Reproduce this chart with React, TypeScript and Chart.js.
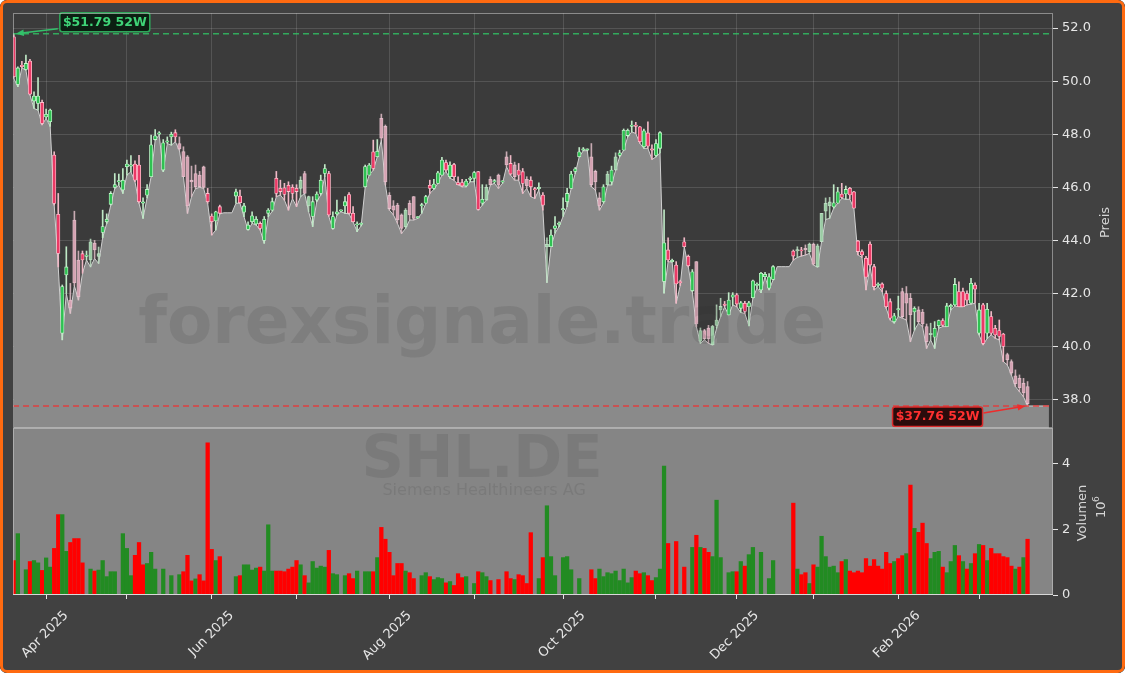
import React, { useEffect, useRef } from "react";
import { Chart, registerables } from "chart.js";
Chart.register(...registerables);

const FONT = '"DejaVu Sans", Verdana, sans-serif';

// ---- data (index = trading day, 0 = 20 Mar 2025 ... 251 = 18 Mar 2026) ----
const opens: (number | null)[] = [
  51.67, 49.88, 50.60, 50.44, 50.76, 49.25, 49.16, 49.20, 48.65, 48.47,
  47.22, 44.98, 40.50, 42.70, 41.75, 44.77, 43.26, 43.50, 43.40, 43.26,
  43.90, 43.40, 44.30, 44.70, 45.36, 46.00, 46.20, 45.90, 46.78, 46.80,
  46.88, 46.84, 45.40, 45.70, 46.40, 47.80, 48.00, 46.65, 47.70, 47.90,
  48.06, 47.65, 47.35, 47.15, 46.27, 46.52, 46.46, 46.77, 45.77, 44.92,
  44.73, 45.27, null, null, null, 45.67, 45.67, 45.06, 44.41, 44.70,
  44.62, 44.64, 44.00, 45.02, 45.14, 46.34, 45.96, 45.98, 46.08, 46.00,
  45.96, 45.96, 46.52, 45.30, 44.90, 45.52, 45.77, 46.52, 46.52, 44.45,
  45.00, 45.10, 45.30, 45.73, 45.02, 44.58, 44.60, 46.02, 46.46, 47.34,
  47.15, 48.60, 48.30, 45.70, 45.30, 45.33, 44.96, 44.52, 45.40, 45.65,
  44.85, 45.30, 45.40, 46.08, 45.96, 46.15, 46.46, 46.93, 46.40, 46.86,
  46.18, 46.18, 46.05, 46.30, 46.34, 46.59, 45.40, 45.52, 46.30, 46.20,
  46.46, 46.20, 47.15, 46.90, 46.85, 46.65, 46.59, 46.30, 46.27, 45.95,
  45.95, 45.71, 43.75, 43.76, 44.45, 44.60, 45.15, 45.46, 45.96, 46.60,
  47.15, 47.40, 47.40, 47.15, 46.60, 45.60, 45.46, 46.09, 46.20, 46.65,
  47.20, 47.40, 47.95, 48.30, 48.35, 48.28, 47.53, 48.05, 47.45, 47.20,
  47.47, 42.45, 43.64, 43.20, 43.07, 42.45, 43.95, 43.40, 42.10, 43.20,
  40.20, 40.60, 40.70, 40.06, 40.80, 41.38, 41.60, 41.19, 41.86, 41.95,
  41.44, 41.63, 41.50, 41.84, 42.30, 42.13, 42.63, 42.20, 42.53, null,
  null, null, null, 43.60, 43.60, 43.62, 43.70, 43.58, 43.86, 43.00,
  43.95, 45.10, 45.30, 45.26, 45.40, 45.75, 45.75, 45.96, 45.83, 43.98,
  43.58, 43.33, 43.86, 43.01, 42.30, 42.36, 42.00, 41.69, 40.94, 41.38,
  42.07, 42.00, 41.82, 41.30, 41.38, 41.30, 40.75, 40.45, 40.35, 40.78,
  40.98, 40.75, 41.50, 41.57, 42.07, 42.07, 42.00, 41.63, 42.32, 40.50,
  41.57, 40.50, 41.13, 40.69, 40.60, 40.47, 39.70, 39.43, 38.90, 38.80,
  38.62, 38.49,
];
const highs: (number | null)[] = [
  51.79, 50.54, 50.75, 50.98, 50.82, 49.60, 50.14, 49.29, 48.95, 48.95,
  47.34, 45.77, 42.32, 43.76, 42.38, 45.10, 43.60, 43.60, 43.60, 44.05,
  44.00, 43.75, 45.14, 45.00, 45.84, 46.52, 46.50, 46.71, 47.03, 47.20,
  47.00, 47.21, 45.60, 46.10, 47.97, 48.18, 48.10, 47.80, 47.90, 48.08,
  48.17, 47.90, 47.53, 47.20, 46.80, 46.84, 46.60, 46.80, 45.96, 45.00,
  45.10, 45.33, null, null, null, 45.93, 45.90, 45.40, 44.70, 45.08,
  44.90, 44.70, 44.90, 45.20, 45.60, 46.60, 46.27, 46.15, 46.21, 46.10,
  46.10, 46.40, 46.60, 45.67, 45.65, 45.83, 46.46, 46.86, 46.60, 45.08,
  45.52, 45.15, 45.65, 45.80, 45.27, 44.70, 44.66, 46.84, 46.90, 47.78,
  47.80, 48.76, 48.35, 45.80, 45.50, 45.40, 45.00, 45.20, 45.50, 45.65,
  44.90, 45.40, 45.70, 46.27, 46.30, 46.60, 47.13, 47.03, 46.96, 46.90,
  46.40, 46.30, 46.30, 46.40, 46.60, 46.60, 46.10, 46.10, 46.40, 46.30,
  46.50, 46.25, 47.34, 47.20, 46.95, 46.90, 46.71, 46.40, 46.40, 46.00,
  46.17, 45.80, 44.10, 44.40, 44.90, 44.70, 45.60, 45.96, 46.60, 46.75,
  47.50, 47.50, 47.45, 47.65, 46.65, 45.80, 46.10, 46.60, 46.80, 47.30,
  47.40, 48.20, 48.20, 48.50, 48.45, 48.30, 48.20, 48.47, 47.60, 47.80,
  48.10, 45.15, 44.10, 43.30, 43.20, 42.50, 44.10, 43.45, 42.90, 43.20,
  40.70, 40.65, 40.80, 40.80, 41.57, 41.82, 41.70, 42.03, 42.03, 42.00,
  41.70, 41.70, 41.70, 42.50, 42.40, 42.80, 42.80, 42.75, 43.05, null,
  null, null, null, 43.64, 43.76, 43.74, 43.83, 43.90, 43.90, 43.86,
  45.02, 45.60, 45.62, 46.10, 46.00, 46.15, 46.05, 46.00, 45.85, 44.00,
  43.64, 43.40, 43.95, 43.10, 42.40, 42.40, 42.10, 41.80, 41.25, 41.90,
  42.20, 42.26, 42.00, 41.50, 41.50, 41.40, 40.85, 40.88, 40.94, 41.00,
  41.05, 41.63, 41.60, 42.57, 42.44, 42.20, 42.10, 42.57, 42.40, 41.63,
  41.63, 41.63, 41.32, 40.80, 41.00, 40.50, 39.75, 39.50, 39.12, 38.93,
  38.80, 38.68,
];
const lows: number[] = [
  50.10, 49.79, 50.50, 50.42, 49.48, 48.97, 48.91, 48.35, 48.60, 48.30,
  45.33, 43.00, 40.25, 42.00, 41.25, 42.30, 41.75, 42.76, 43.26, 43.00,
  43.32, 43.13, 44.10, 44.64, 45.33, 45.96, 46.08, 45.77, 46.46, 46.59,
  46.21, 45.40, 44.83, 45.60, 46.40, 47.78, 47.97, 46.59, 47.65, 47.59,
  47.72, 47.40, 46.40, 45.02, 45.65, 45.95, 46.00, 45.96, 45.40, 44.20,
  44.39, 45.00, 45.04, 45.04, 45.04, 45.40, 45.40, 44.89, 44.39, 44.64,
  44.58, 44.39, 43.89, 44.89, 45.10, 45.65, 45.71, 45.52, 45.14, 45.58,
  45.27, 45.65, 45.77, 45.08, 44.52, 45.46, 45.71, 46.40, 44.90, 44.42,
  44.95, 45.08, 45.02, 45.00, 44.70, 44.33, 44.55, 46.00, 46.46, 46.65,
  47.15, 47.78, 46.09, 45.14, 44.96, 44.64, 44.26, 44.45, 44.77, 44.77,
  44.83, 45.02, 45.39, 45.77, 45.92, 46.15, 46.46, 46.59, 46.34, 46.27,
  46.09, 46.02, 46.02, 46.21, 46.21, 45.14, 45.33, 45.52, 46.09, 46.15,
  45.96, 46.15, 46.78, 46.46, 46.27, 46.27, 45.77, 45.96, 45.65, 45.58,
  45.90, 45.14, 42.41, 43.76, 44.27, 44.52, 44.90, 45.27, 45.96, 46.52,
  47.15, 47.38, 47.38, 46.02, 45.90, 45.14, 45.40, 46.09, 46.09, 46.65,
  47.15, 47.40, 47.90, 48.09, 48.03, 47.66, 47.47, 47.47, 47.05, 47.15,
  47.30, 42.01, 43.20, 43.18, 41.63, 42.30, 43.76, 43.00, 42.07, 40.75,
  40.12, 40.25, 40.12, 40.06, 40.69, 41.13, 41.50, 41.19, 41.57, 41.50,
  41.28, 41.25, 40.78, 41.82, 42.20, 42.03, 42.63, 42.13, 42.51, 43.01,
  43.01, 43.01, 43.01, 43.26, 43.36, 43.41, 43.45, 43.51, 43.07, 42.99,
  43.95, 44.79, 44.83, 45.21, 45.40, 45.58, 45.55, 45.55, 45.21, 43.45,
  43.36, 42.13, 43.01, 42.13, 42.26, 42.07, 41.44, 41.00, 40.88, 41.13,
  41.07, 41.00, 40.18, 40.62, 40.88, 40.75, 39.93, 40.25, 39.93, 40.69,
  40.75, 40.75, 41.38, 41.53, 41.50, 41.50, 41.57, 41.60, 41.63, 40.44,
  40.06, 40.31, 40.44, 40.31, 40.25, 39.43, 39.31, 38.93, 38.49, 38.30,
  38.11, 37.76,
];
const closes: (number | null)[] = [
  50.17, 50.50, 50.55, 50.67, 49.51, 49.44, 49.44, 48.41, 48.75, 48.91,
  45.39, 43.51, 42.26, 43.00, 41.45, 42.40, 41.88, 43.26, 43.45, 43.95,
  43.64, 43.50, 44.52, 44.80, 45.77, 46.10, 46.25, 46.27, 46.88, 46.84,
  46.27, 45.46, 45.45, 45.92, 47.60, 47.94, 48.05, 47.68, 47.75, 48.00,
  47.90, 47.45, 46.40, 45.30, 46.20, 46.02, 46.02, 46.00, 45.46, 44.70,
  45.08, 45.02, null, null, null, 45.83, 45.42, 45.30, 44.58, 44.93,
  44.80, 44.45, 44.80, 45.14, 45.46, 45.77, 45.84, 45.73, 45.84, 45.77,
  45.84, 46.27, 45.77, 45.65, 45.46, 45.75, 46.27, 46.71, 44.96, 44.90,
  45.08, 45.10, 45.46, 45.02, 44.70, 44.60, 44.62, 46.78, 46.84, 46.71,
  47.36, 47.85, 46.20, 45.20, 45.14, 44.77, 44.45, 45.14, 44.96, 44.83,
  44.85, 45.33, 45.65, 45.96, 46.12, 46.55, 47.03, 46.65, 46.84, 46.40,
  46.10, 46.05, 46.24, 46.35, 46.56, 45.17, 45.55, 46.00, 46.10, 46.25,
  46.08, 46.20, 46.84, 46.50, 46.40, 46.46, 46.15, 46.05, 46.02, 45.90,
  46.00, 45.33, 43.85, 44.20, 44.55, 44.65, 45.20, 45.77, 46.50, 46.70,
  47.34, 47.45, 47.40, 46.10, 46.20, 45.30, 46.02, 46.50, 46.65, 47.15,
  47.30, 48.15, 48.15, 48.35, 48.30, 47.72, 48.13, 47.55, 47.40, 47.65,
  48.06, 43.91, 43.26, 43.25, 42.36, 42.40, 43.76, 43.05, 42.82, 40.85,
  40.60, 40.30, 40.30, 40.76, 41.00, 41.52, 41.55, 41.75, 41.95, 41.60,
  41.65, 41.32, 41.65, 42.48, 42.35, 42.76, 42.72, 42.63, 43.01, null,
  null, null, null, 43.41, 43.65, 43.60, 43.65, 43.86, 43.10, 43.80,
  45.02, 45.40, 45.45, 45.42, 45.83, 45.62, 45.92, 45.71, 45.21, 43.58,
  43.45, 42.61, 43.07, 42.26, 42.35, 42.20, 41.50, 41.07, 41.16, 41.40,
  41.13, 41.63, 41.20, 41.44, 40.94, 40.85, 40.18, 40.50, 40.69, 40.98,
  40.80, 41.53, 41.55, 42.34, 41.50, 41.50, 41.75, 42.38, 42.16, 41.38,
  40.12, 41.40, 40.50, 40.44, 40.38, 40.00, 39.50, 39.00, 38.60, 38.45,
  38.25, 37.85,
];
// volume in millions
const volumes: number[] = [
  1.05, 1.87, 0, 0.77, 1.02, 1.05, 0.98, 0.75, 1.13, 0.85,
  1.42, 2.45, 2.45, 1.33, 1.60, 1.72, 1.72, 0.98, 0, 0.79,
  0.73, 0.76, 1.05, 0.56, 0.71, 0.71, 0, 1.87, 1.42, 0.59,
  1.21, 1.60, 0.92, 0.96, 1.30, 0.79, 0, 0.79, 0, 0.59,
  0, 0.62, 0.71, 1.21, 0.43, 0.49, 0.62, 0.43, 4.64, 1.39,
  1.05, 1.17, 0, 0, 0, 0.56, 0.59, 0.92, 0.92, 0.76,
  0.82, 0.85, 0.73, 2.14, 0.73, 0.73, 0.73, 0.71, 0.79, 0.85,
  1.05, 0.92, 0.59, 0.37, 1.02, 0.82, 0.88, 0.85, 1.36, 0.65,
  0.62, 0, 0.59, 0.65, 0.50, 0.73, 0, 0.71, 0.71, 0.71,
  1.14, 2.06, 1.70, 1.30, 0.59, 0.96, 0.96, 0.73, 0.68, 0.50,
  0, 0.59, 0.68, 0.56, 0.47, 0.53, 0.50, 0.37, 0.41, 0.29,
  0.65, 0.53, 0.56, 0, 0.35, 0.71, 0.68, 0.56, 0.44, 0,
  0.47, 0, 0.71, 0.50, 0.47, 0.62, 0.59, 0.35, 1.90, 0,
  0.50, 1.14, 2.72, 1.17, 0.59, 0, 1.14, 1.17, 0.77, 0,
  0.50, 0, 0, 0.77, 0.50, 0.79, 0.56, 0.68, 0.65, 0.73,
  0.44, 0.79, 0.37, 0.53, 0.73, 0.65, 0.68, 0.59, 0.44, 0.53,
  0.79, 3.93, 1.57, 0, 1.63, 0, 0.85, 0, 1.45, 1.82,
  1.45, 1.42, 1.30, 1.17, 2.89, 1.14, 0, 0.68, 0.71, 0.71,
  1.02, 0.88, 1.23, 1.45, 0, 1.30, 0, 0.50, 1.05, 0,
  0, 0, 0, 2.80, 0.79, 0.62, 0.68, 0.35, 0.92, 0.85,
  1.79, 1.17, 0.85, 0.88, 0.68, 1.02, 1.08, 0.73, 0.68, 0.73,
  0.68, 1.11, 0.88, 1.08, 0.88, 0.79, 1.30, 0.96, 1.02, 1.11,
  1.20, 1.26, 3.35, 2.03, 1.91, 2.19, 1.57, 1.11, 1.30, 1.33,
  0.85, 0.68, 1.02, 1.51, 1.20, 1.02, 0.79, 0.96, 1.26, 1.54,
  1.51, 1.05, 1.42, 1.26, 1.26, 1.17, 1.14, 0.88, 0.79, 0.85,
  1.14, 1.70,
];
// volume bar colour: g = up, r = down
const volumeDirection = [
  "rgggrggrgg", "rrggrrrrgg", "rggggggggg", "rrrggggggg", "ggrrrgrrrr",
  "grggggrggg", "grgggrrrrr", "rgrgggggrg", "gggrrggggr", "grrrrrrgrr",
  "gggrgggrgr", "rrgggrggrg", "rgrrgrrrrg", "grgggggggg", "gggrrggggg",
  "ggggrrgrrg", "ggrgrgrggr", "grrggggggr", "grgggggggg", "gggrgrrgrg",
  "gggggrgrrr", "rrrrrrrrgr", "rgrgrrrggg", "rgggrgrgrg", "rgrrrrrrgr",
  "gr",
].join("");
// candles drawn in a paler tone
const fadedCandles = [
  14, 15, 16, 19, 20, 21, 41, 42, 43, 44, 45, 46, 47, 71, 72, 73,
  91, 92, 93, 94, 95, 96, 97, 98, 99, 117, 118, 120, 122, 124, 127, 132,
  143, 144, 145, 147, 149, 169, 170, 171, 172, 173, 174, 175,
  194, 196, 197, 198, 199, 200, 201, 202, 220, 221, 222, 224, 225, 226, 227,
  246, 247, 248, 249, 250, 251,
];
const monthTickIdx = [8, 28, 49, 70, 93, 114, 136, 159, 179, 198, 219, 239];
const monthTickLabels = ["Apr 2025", "", "Jun 2025", "", "Aug 2025", "", "Oct 2025", "", "Dec 2025", "", "Feb 2026", ""];
const priceTicks = [38, 40, 42, 44, 46, 48, 50, 52];
const volumeTicks = [0, 2, 4];
const high52 = { idx: 0, value: 51.79, label: "$51.79 52W" };
const low52 = { idx: 251, value: 37.76, label: "$37.76 52W" };
const areaTailIdx = 256.3;

const X_MIN = -0.2, X_MAX = 257.3;
const P_MIN = 36.93, P_MAX = 52.57;
const V_MAX = 5.09;

function arrow(ctx: CanvasRenderingContext2D, x1: number, y1: number, x2: number, y2: number, color: string) {
  const a = Math.atan2(y2 - y1, x2 - x1);
  ctx.strokeStyle = color;
  ctx.fillStyle = color;
  ctx.lineWidth = 1.6;
  ctx.beginPath();
  ctx.moveTo(x1, y1);
  ctx.lineTo(x2 - 6 * Math.cos(a), y2 - 6 * Math.sin(a));
  ctx.stroke();
  ctx.beginPath();
  ctx.moveTo(x2, y2);
  ctx.lineTo(x2 - 8 * Math.cos(a) + 3.2 * Math.sin(a), y2 - 8 * Math.sin(a) - 3.2 * Math.cos(a));
  ctx.lineTo(x2 - 8 * Math.cos(a) - 3.2 * Math.sin(a), y2 - 8 * Math.sin(a) + 3.2 * Math.cos(a));
  ctx.closePath();
  ctx.fill();
}

function labelBox(ctx: CanvasRenderingContext2D, x: number, y: number, w: number, h: number, text: string, fill: string, stroke: string, color: string) {
  ctx.beginPath();
  (ctx as any).roundRect(x, y, w, h, 2.5);
  ctx.fillStyle = fill;
  ctx.fill();
  ctx.lineWidth = 1.5;
  ctx.strokeStyle = stroke;
  ctx.stroke();
  ctx.fillStyle = color;
  ctx.font = `bold 12.5px ${FONT}`;
  ctx.textAlign = "center";
  ctx.textBaseline = "middle";
  ctx.fillText(text, x + w / 2, y + h / 2 + 0.5);
}

const decorPlugin = {
  id: "decor",
  beforeDraw(chart: any) {
    const { ctx, chartArea: ca, scales } = chart;
    ctx.save();
    ctx.fillStyle = "#414141";
    ctx.fillRect(0, 0, chart.width, chart.height);
    ctx.fillStyle = "#3b3b3b";
    ctx.fillRect(ca.left, scales.y.top, ca.right - ca.left, scales.y.bottom - scales.y.top);
    ctx.restore();
  },
  beforeDatasetsDraw(chart: any) {
    const { ctx, chartArea: ca, scales } = chart;
    ctx.save();
    ctx.fillStyle = "#858585";
    ctx.fillRect(ca.left, scales.yv.top, ca.right - ca.left, scales.yv.bottom - scales.yv.top);
    ctx.restore();
  },
  afterDatasetsDraw(chart: any) {
    const { ctx, chartArea: ca, scales } = chart;
    const x = scales.x, y = scales.y, yv = scales.yv;
    const w = ca.right - ca.left;
    ctx.save();
    // watermarks
    ctx.fillStyle = "rgba(40,40,40,0.11)";
    ctx.textAlign = "center";
    ctx.textBaseline = "middle";
    ctx.font = `bold 66px ${FONT}`;
    ctx.fillText("forexsignale.trade", ca.left + w * 0.451, y.top + (y.bottom - y.top) * 0.754);
    ctx.font = `bold 59px ${FONT}`;
    ctx.fillText("SHL.DE", ca.left + w * 0.451, yv.top + (yv.bottom - yv.top) * 0.2);
    ctx.font = `16px ${FONT}`;
    ctx.fillText("Siemens Healthineers AG", ca.left + w * 0.453, yv.top + (yv.bottom - yv.top) * 0.375);

    // 52W lines
    ctx.lineWidth = 1.5;
    ctx.setLineDash([6, 4]);
    const hy = y.getPixelForValue(high52.value);
    ctx.strokeStyle = "rgba(50,190,100,0.85)";
    ctx.beginPath(); ctx.moveTo(ca.left, hy); ctx.lineTo(ca.right, hy); ctx.stroke();
    const ly = y.getPixelForValue(low52.value);
    ctx.strokeStyle = "rgba(235,50,50,0.85)";
    ctx.beginPath(); ctx.moveTo(ca.left, ly); ctx.lineTo(ca.right, ly); ctx.stroke();
    ctx.setLineDash([]);

    // annotations
    const hx = x.getPixelForValue(high52.idx);
    arrow(ctx, hx + 44, hy - 5, hx + 2, hy, "#33c06a");
    labelBox(ctx, hx + 46, hy - 21, 90, 19, high52.label, "#0c1f12", "#2ea85a", "#3fd477");
    const lx = x.getPixelForValue(low52.idx);
    arrow(ctx, lx - 44, ly + 7, lx - 2, ly, "#ef2b2b");
    labelBox(ctx, lx - 135, ly + 1, 90, 19.5, low52.label, "#2a0c0c", "#d82a2a", "#ff3030");

    // panel borders
    ctx.strokeStyle = "rgba(205,205,205,0.55)";
    ctx.lineWidth = 1;
    ctx.strokeRect(ca.left + 0.5, y.top + 0.5, w - 1, y.bottom - y.top - 1);
    ctx.strokeRect(ca.left + 0.5, yv.top + 0.5, w - 1, yv.bottom - yv.top - 1);
    ctx.strokeStyle = "#d8d8d8";
    ctx.beginPath(); ctx.moveTo(ca.left, yv.bottom - 0.5); ctx.lineTo(ca.right, yv.bottom - 0.5); ctx.stroke();

    // axis titles
    ctx.fillStyle = "#d6d6d6";
    ctx.font = `13px ${FONT}`;
    ctx.textAlign = "center";
    ctx.textBaseline = "middle";
    const rot = (text: string, cx: number, cy: number) => {
      ctx.save(); ctx.translate(cx, cy); ctx.rotate(-Math.PI / 2); ctx.fillText(text, 0, 0); ctx.restore();
    };
    rot("Preis", ca.right + 53, (y.top + y.bottom) / 2 + 2);
    rot("Volumen", ca.right + 30, yv.top + 85);
    ctx.save();
    ctx.translate(ca.right + 49, yv.top + 80);
    ctx.rotate(-Math.PI / 2);
    ctx.textAlign = "left";
    ctx.fillText("10", -10, 0);
    ctx.font = `9px ${FONT}`;
    ctx.fillText("6", 6, -5);
    ctx.restore();
    ctx.restore();
  },
};

export default function App() {
  const ref = useRef<HTMLCanvasElement>(null);
  useEffect(() => {
    const canvas = ref.current;
    if (!canvas) return;
    const n = lows.length;
    const areaData = lows.map((v, i) => ({ x: i, y: v }));
    areaData.push({ x: areaTailIdx, y: lows[n - 1] });

    const wickData: any[] = [], wickColors: string[] = [];
    const bodyData: any[] = [], bodyColors: string[] = [], bodyBorders: string[] = [];
    for (let i = 0; i < n; i++) {
      const o = opens[i], c = closes[i], h = highs[i];
      if (o == null || c == null || h == null) continue;
      const up = c >= o;
      const faded = fadedCandles.includes(i);
      wickData.push({ x: i, y: [lows[i], h] });
      bodyData.push({ x: i, y: [o, c] });
      if (up) {
        wickColors.push(faded ? "rgba(190,225,195,0.85)" : "#bfe9c6");
        bodyColors.push(faded ? "rgba(150,205,160,0.8)" : "#2fc152");
        bodyBorders.push(faded ? "rgba(205,235,210,0.85)" : "#c5f5cd");
      } else {
        wickColors.push(faded ? "rgba(225,190,200,0.85)" : "#efb9c6");
        bodyColors.push(faded ? "rgba(215,160,178,0.8)" : "#ea3a66");
        bodyBorders.push(faded ? "rgba(240,205,215,0.85)" : "#ffc0cd");
      }
    }
    const volData = volumes.map((v, i) => ({ x: i, y: v }));
    const volColors = volumes.map((_, i) => (volumeDirection[i] === "g" ? "#228b22" : "#ff0000"));

    const tickFont = { size: 13, family: FONT };
    const chart = new Chart(canvas, {
      type: "bar",
      data: {
        datasets: [
          {
            type: "line", data: areaData as any, yAxisID: "y", fill: "start",
            backgroundColor: "#8a8a8a", borderColor: "#d0d0d0", borderWidth: 1,
            pointRadius: 0, tension: 0, order: 10,
          } as any,
          {
            type: "bar", data: volData as any, yAxisID: "yv", backgroundColor: volColors,
            barThickness: 3.6, grouped: false, order: 9,
          } as any,
          {
            type: "bar", data: wickData, yAxisID: "y", backgroundColor: wickColors,
            barThickness: 1, grouped: false, order: 2,
          } as any,
          {
            type: "bar", data: bodyData, yAxisID: "y", backgroundColor: bodyColors,
            borderColor: bodyBorders, borderWidth: 0.8, borderSkipped: false,
            barThickness: 3.4, minBarLength: 1.3, grouped: false, order: 1,
          } as any,
        ],
      },
      options: {
        responsive: false,
        animation: false,
        devicePixelRatio: 1,
        layout: { padding: { left: 13, top: 13, right: 0, bottom: 0 } },
        plugins: { legend: { display: false }, tooltip: { enabled: false } },
        scales: {
          x: {
            type: "linear", min: X_MIN, max: X_MAX, offset: false,
            grid: { color: "rgba(255,255,255,0.13)", offset: false, tickLength: 4, tickColor: "#e6e6e6" },
            border: { display: false },
            ticks: {
              autoSkip: false, minRotation: 45, maxRotation: 45, color: "#e6e6e6", font: tickFont,
              padding: 9, labelOffset: 20,
              callback: (_v: any, i: number) => monthTickLabels[i] ?? "",
            },
            afterBuildTicks: (s: any) => { s.ticks = monthTickIdx.map((v) => ({ value: v })); },
            afterFit: (s: any) => { s.height = 78; s.paddingLeft = 0; s.paddingRight = 0; },
          },
          y: {
            type: "linear", position: "right", stack: "panels", stackWeight: 415,
            min: P_MIN, max: P_MAX,
            grid: { color: "rgba(255,255,255,0.13)", tickLength: 5, tickColor: "#e6e6e6" },
            border: { display: false },
            ticks: { color: "#e6e6e6", font: tickFont, padding: 4, callback: (v: any) => Number(v).toFixed(1) },
            afterBuildTicks: (s: any) => { s.ticks = priceTicks.map((v) => ({ value: v })); },
            afterFit: (s: any) => { s.width = 72; s.paddingTop = 0; s.paddingBottom = 0; },
          },
          yv: {
            type: "linear", position: "right", stack: "panels", stackWeight: 167,
            min: 0, max: V_MAX,
            grid: { drawOnChartArea: false, tickLength: 5, tickColor: "#e6e6e6" },
            border: { display: false },
            ticks: { color: "#e6e6e6", font: tickFont, padding: 4, callback: (v: any) => String(v) },
            afterBuildTicks: (s: any) => { s.ticks = volumeTicks.map((v) => ({ value: v })); },
            afterFit: (s: any) => { s.width = 72; s.paddingTop = 0; s.paddingBottom = 0; },
          },
        } as any,
      },
      plugins: [decorPlugin],
    });
    return () => chart.destroy();
  }, []);

  return (
    <div style={{ position: "relative", width: 1125, height: 673, overflow: "hidden", borderRadius: 7, background: "#414141" }}>
      <style>{"body{margin:0;background:#ffffff;}"}</style>
      <canvas ref={ref} width={1125} height={673} style={{ display: "block" }} />
      <div style={{ position: "absolute", left: 0, top: 0, width: 1125, height: 673, boxSizing: "border-box", border: "3px solid #ff6a10", borderRadius: 7, pointerEvents: "none" }} />
    </div>
  );
}
